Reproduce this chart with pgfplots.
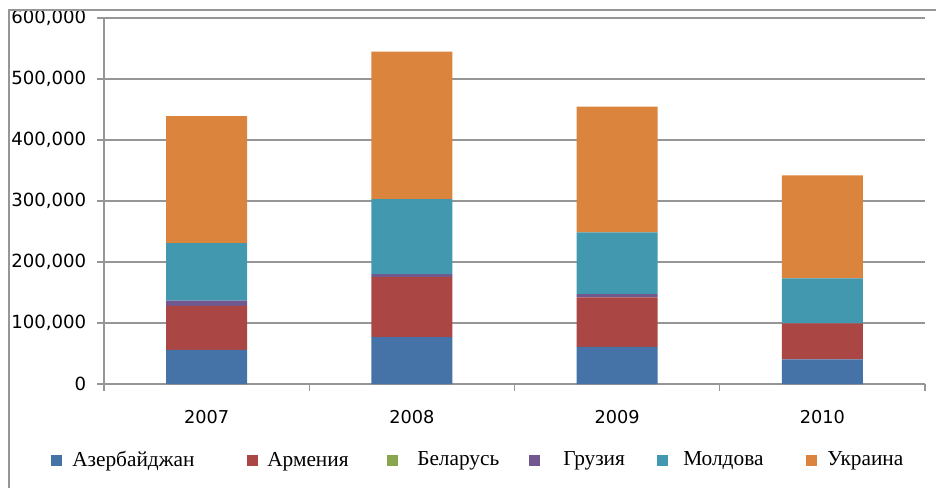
\documentclass[border=0pt]{standalone}
\usepackage{fontspec}
\setmainfont{Liberation Serif}
\newfontfamily\tickfont{DejaVu Sans}
\usepackage{pgfplots}
\pgfplotsset{compat=1.18}
\usetikzlibrary{calc}
\definecolor{cAz}{HTML}{4572A7}
\definecolor{cAr}{HTML}{AA4643}
\definecolor{cBe}{HTML}{89A54E}
\definecolor{cGe}{HTML}{71588F}
\definecolor{cMo}{HTML}{4198AF}
\definecolor{cUk}{HTML}{DB843D}
\definecolor{gridc}{HTML}{969696}
\begin{document}
\begin{tikzpicture}
\begin{axis}[
  name=ax,
  scale only axis,
  width=615.75pt, height=274.5pt,
  ybar stacked,
  bar width=60.75pt,
  xmin=-0.5, xmax=3.5,
  ymin=0, ymax=600000,
  xtick={-0.5,0.5,1.5,2.5,3.5},
  x tick label as interval,
  xticklabels={2007,2008,2009,2010},
  ytick={0,100000,...,600000},
  scaled y ticks=false,
  /pgf/number format/assume math mode=true,
  yticklabel={\pgfmathprintnumber[fixed,1000 sep={,}]{\tick}},
  axis x line*=bottom,
  axis y line*=left,
  axis line style={gridc, line width=1.1pt, -},
  ymajorgrids,
  major grid style={gridc, line width=1.1pt},
  tick style={gridc, line width=1.1pt},
  tick align=outside,
  major tick length=5.25pt,
  ticklabel style={text=black},
  yticklabel style={font=\tickfont\fontsize{13.6}{15}\selectfont, xshift=-4.5pt},
  xticklabel style={font=\tickfont\fontsize{13.3}{15}\selectfont, yshift=-11pt},
  legend columns=6,
  legend style={
    at={(rel axis cs:0,0)}, anchor=west,
    xshift=-39.75pt, yshift=-57pt,
    draw=none, fill=none, inner sep=0pt,
    /tikz/column sep=0pt,
    nodes={inner sep=0pt, font=\fontsize{16}{18}\selectfont},
  },
  legend image code/.code={\fill[#1] (0pt,-4.125pt) rectangle (8.25pt,4.125pt);},
]
\addplot[fill=cAz, draw=none] coordinates {(0,56000) (1,77000) (2,60700) (3,40500)};
\addplot[fill=cAr, draw=none] coordinates {(0,72000) (1,98400) (2,81300) (3,59000)};
\addplot[fill=cBe, draw=none] coordinates {(0,0) (1,0) (2,0) (3,0)};
\addplot[fill=cGe, draw=none] coordinates {(0,8500) (1,4600) (2,5500) (3,0)};
\addplot[fill=cMo, draw=none] coordinates {(0,94500) (1,123000) (2,101200) (3,73500)};
\addplot[fill=cUk, draw=none] coordinates {(0,208000) (1,242000) (2,206000) (3,169000)};
\legend{
  \hspace{7.5pt}\makebox[131.25pt][l]{Азербайджан},
  \hspace{6.75pt}\makebox[90pt][l]{Армения},
  \hspace{14.25pt}\makebox[84pt][l]{Беларусь},
  \hspace{17.25pt}\makebox[70.5pt][l]{Грузия},
  \hspace{11.25pt}\makebox[92.25pt][l]{Молдова},
  \hspace{7.5pt}Украина}
\end{axis}
\draw[gridc, line width=1.1pt] ($(ax.south west)+(-71.25pt,-90pt)$) -- ($(ax.north west)+(-71.25pt,6pt)$) -- ($(ax.north east)+(20pt,6pt)$);
\pgfresetboundingbox
\path ($(ax.south west)+(-78pt,-77.25pt)$) rectangle ++(702pt,365.25pt);
\end{tikzpicture}
\end{document}
